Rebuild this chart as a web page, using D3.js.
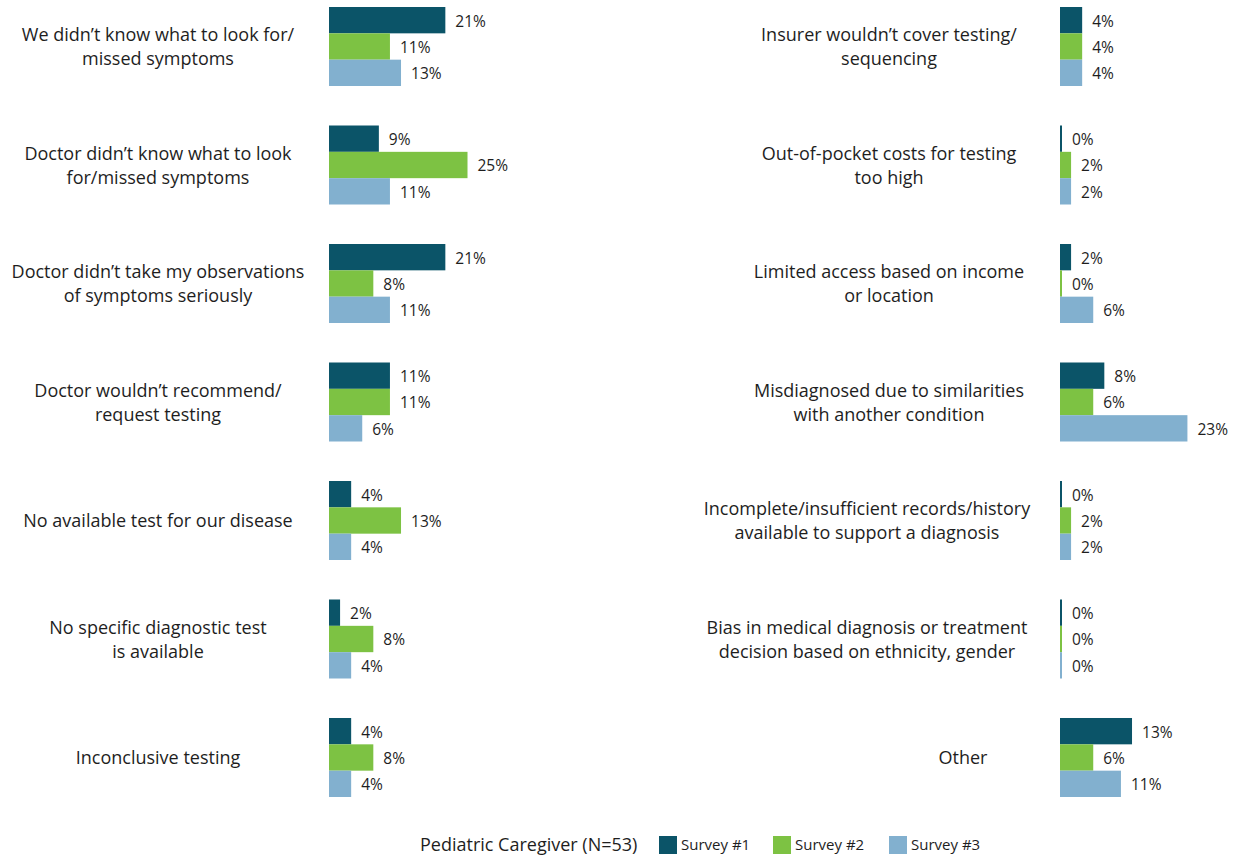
<!DOCTYPE html>
<html>
<head>
<meta charset="utf-8">
<script src="https://cdn.jsdelivr.net/npm/d3@7"></script>
<style>
  body { margin: 0; background: #fff; }
  text { font-family: "Open Sans", sans-serif; fill: #1e1e1e; }
</style>
</head>
<body>
<svg id="chart" width="1247" height="859"></svg>
<script>
// categories, one line break per label where the chart wraps
const leftCategories = [
  'We didn’t know what to look for/\nmissed symptoms',
  'Doctor didn’t know what to look\nfor/missed symptoms',
  'Doctor didn’t take my observations\nof symptoms seriously',
  'Doctor wouldn’t recommend/\nrequest testing',
  'No available test for our disease',
  'No specific diagnostic test\nis available',
  'Inconclusive testing'
]
const rightCategories = [
  'Insurer wouldn’t cover testing/\nsequencing',
  'Out-of-pocket costs for testing\ntoo high',
  'Limited access based on income\nor location',
  'Misdiagnosed due to similarities\nwith another condition',
  'Incomplete/insufficient records/history\navailable to support a diagnosis',
  'Bias in medical diagnosis or treatment\ndecision based on ethnicity, gender',
  'Other'
]

// percentages per survey
const survey1Left = [21, 9, 21, 11, 4, 2, 4]
const survey2Left = [11, 25, 8, 11, 13, 8, 8]
const survey3Left = [13, 11, 11, 6, 4, 4, 4]
const survey1Right = [4, 0, 2, 8, 0, 0, 13]
const survey2Right = [4, 2, 0, 6, 2, 0, 6]
const survey3Right = [4, 2, 6, 23, 2, 0, 11]

const seriesNames = ['Survey #1', 'Survey #2', 'Survey #3']
const legendTitle = 'Pediatric Caregiver (N=53)'

const color = d3.scaleOrdinal()
  .domain(seriesNames)
  .range(['#0b5468', '#7dc243', '#82b0cf'])

const svg = d3.select('#chart')

// vertical layout shared by both panels
const y = d3.scaleBand()
  .domain(d3.range(7))
  .range([7, 797])
  .paddingInner(0.3333)
  .paddingOuter(0)
const yInner = d3.scaleBand()
  .domain(d3.range(3))
  .range([0, y.bandwidth()])

const x = d3.scaleLinear().domain([0, 25]).range([0, 138.5])

// label centres (the right column's text boxes are not all aligned)
const leftLabelCx = [158, 158, 158, 158, 158, 158, 158]
const rightLabelCx = [889, 889, 889, 889, 867, 867, 963]

function drawPanel (categories, series, barX, labelCx) {
  const g = svg.append('g')

  const rows = categories.map((c, i) => ({
    label: c,
    i: i,
    values: series.map(s => s[i])
  }))

  const row = g.selectAll('g.row')
    .data(rows)
    .join('g')
    .attr('class', 'row')
    .attr('transform', d => `translate(0,${y(d.i)})`)

  row.selectAll('rect')
    .data(d => d.values)
    .join('rect')
    .attr('x', barX)
    .attr('y', (d, j) => yInner(j))
    .attr('width', d => Math.max(2, x(d)))
    .attr('height', yInner.bandwidth())
    .attr('fill', (d, j) => color(seriesNames[j]))

  row.selectAll('text.value')
    .data(d => d.values)
    .join('text')
    .attr('class', 'value')
    .attr('x', d => barX + Math.max(2, x(d)) + 10)
    .attr('y', (d, j) => yInner(j) + yInner.bandwidth() / 2 + 1)
    .attr('dy', '0.35em')
    .style('font-size', '15.5px')
    .text(d => d + '%')

  const label = row.append('text')
    .attr('class', 'cat')
    .attr('text-anchor', 'middle')
    .style('font-size', '18px')
  label.each(function (d) {
    const lines = d.label.split('\n')
    const lh = 24
    const top = y.bandwidth() / 2 - (lines.length - 1) * lh / 2 + 0.5
    d3.select(this).selectAll('tspan')
      .data(lines)
      .join('tspan')
      .attr('x', labelCx[d.i])
      .attr('y', (l, k) => top + k * lh)
      .attr('dy', '0.35em')
      .text(l => l)
  })
}

drawPanel(leftCategories, [survey1Left, survey2Left, survey3Left], 329, leftLabelCx)
drawPanel(rightCategories, [survey1Right, survey2Right, survey3Right], 1060, rightLabelCx)

// legend
const legend = svg.append('g').attr('transform', 'translate(0,845)')
legend.append('text')
  .attr('x', 420)
  .attr('dy', '0.35em')
  .style('font-size', '18px')
  .text(legendTitle)

const legendX = [659, 773, 889]
const item = legend.selectAll('g.item')
  .data(seriesNames)
  .join('g')
  .attr('class', 'item')
  .attr('transform', (d, i) => `translate(${legendX[i]},0)`)
item.append('rect')
  .attr('y', -9)
  .attr('width', 18)
  .attr('height', 18)
  .attr('fill', d => color(d))
item.append('text')
  .attr('x', 22)
  .attr('dy', '0.35em')
  .style('font-size', '15px')
  .text(d => d)
</script>
</body>
</html>
